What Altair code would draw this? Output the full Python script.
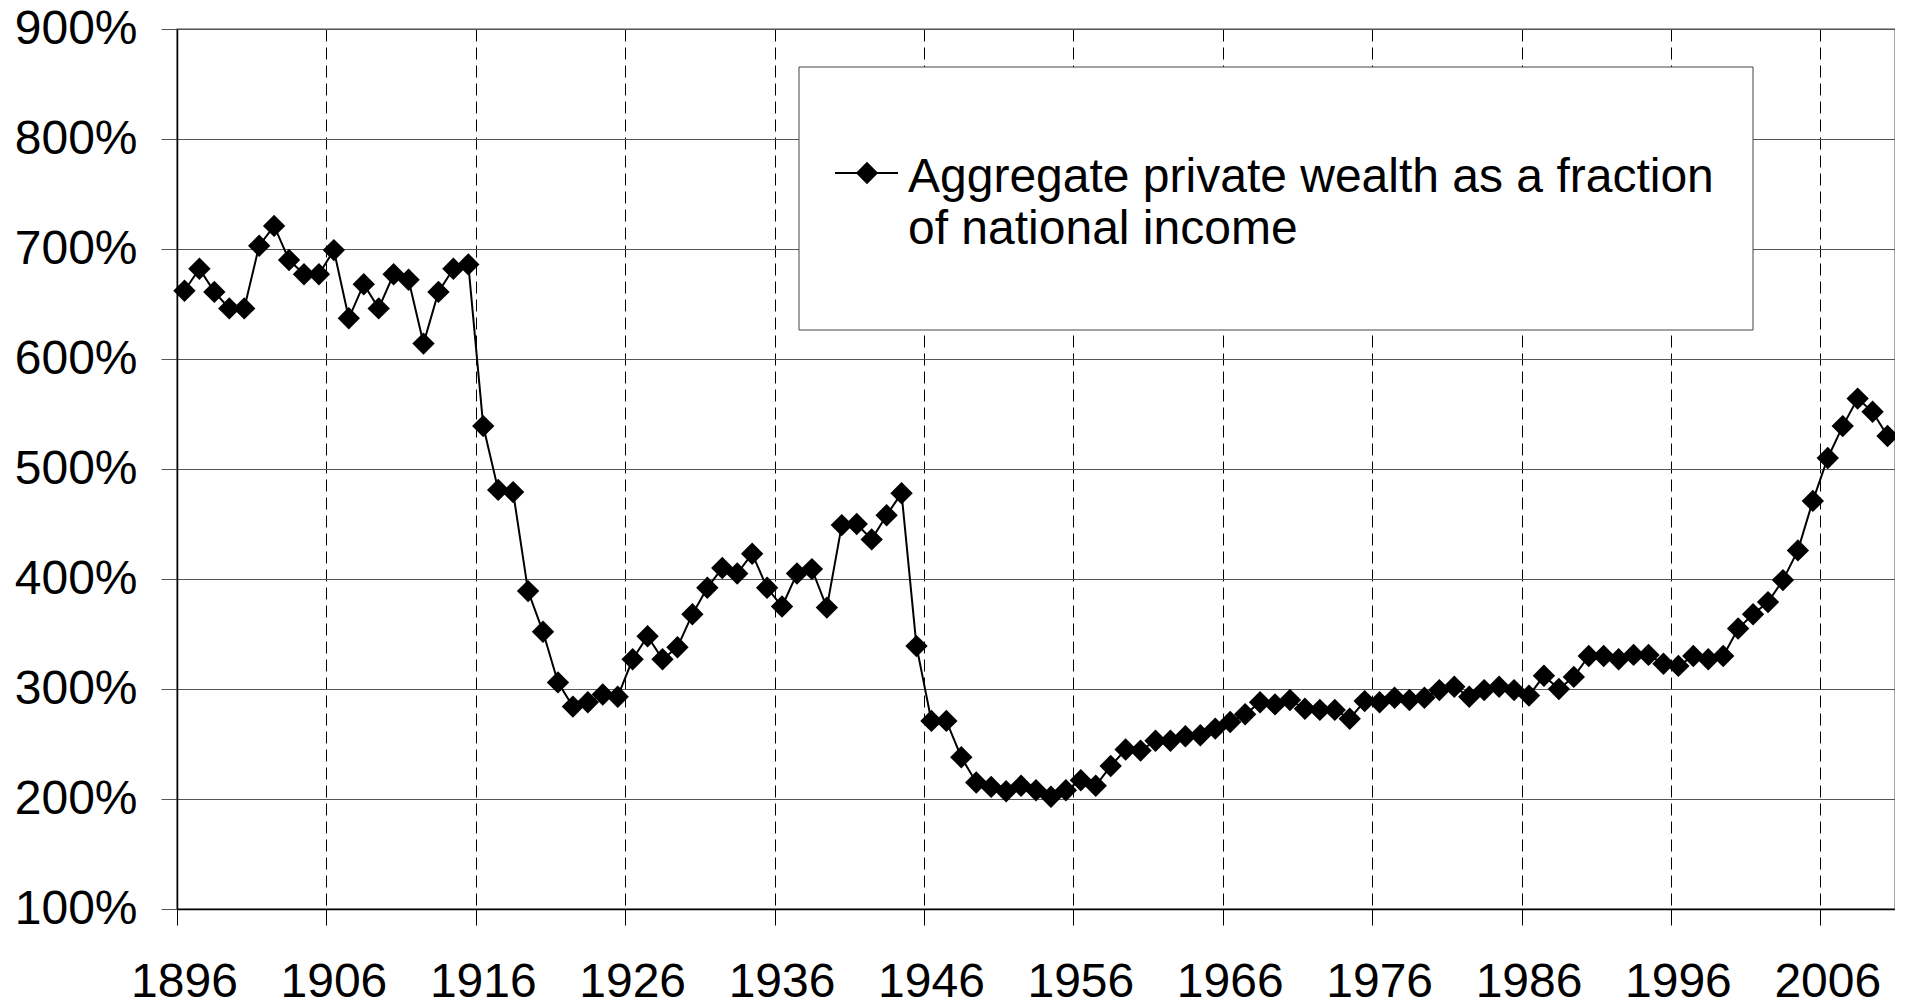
import altair as alt
import pandas as pd

# ---- data ----
years = list(range(1896, 2011))
wealth_ratio = [
    662, 682, 661, 646, 646, 703, 721, 690, 677, 677,   # 1896-1905
    699, 637, 668, 646, 677, 672, 614, 661, 682, 686,   # 1906-1915
    539, 481, 479, 389, 352, 306, 284, 288, 295, 293,   # 1916-1925
    327, 348, 327, 338, 368, 392, 410, 405, 423, 392,   # 1926-1935
    375, 405, 409, 374, 449, 450, 436, 458, 478, 339,   # 1936-1945
    271, 271, 238, 215, 211, 207, 212, 208, 202, 208,   # 1946-1955
    217, 212, 230, 245, 244, 253, 253, 257, 258, 264,   # 1956-1965
    270, 277, 288, 286, 290, 282, 281, 281, 273, 289,   # 1966-1975
    288, 292, 290, 292, 299, 302, 293, 299, 302, 299,   # 1976-1985
    294, 312, 300, 311, 330, 330, 327, 331, 331, 323,   # 1986-1995
    321, 330, 327, 330, 355, 368, 379, 399, 426, 471,   # 1996-2005
    510, 539, 564, 552, 530,                            # 2006-2010
]
x_tick_labels = [1896, 1906, 1916, 1926, 1936, 1946, 1956, 1966, 1976, 1986, 1996, 2006]
y_ticks = [100, 200, 300, 400, 500, 600, 700, 800, 900]
legend_lines = ["Aggregate private wealth as a fraction", "of national income"]

df = pd.DataFrame({"year": years, "value": wealth_ratio})
# category boundaries (gridlines sit between categories)
grid_vals = [y - 0.5 for y in x_tick_labels]

FONT = "Liberation Sans"
W, H = 1718, 880

x_enc = alt.X(
    "year:Q",
    scale=alt.Scale(domain=[1895.5, 2010.5], nice=False, zero=False),
    axis=alt.Axis(
        values=grid_vals,
        title=None,
        labelExpr="format(datum.value + 0.5, 'd')",
        labelOffset=7,
        labelFontSize=48,
        labelFont=FONT,
        labelColor="black",
        labelPadding=33,
        labelFlush=False,
        labelOverlap=False,
        tickSize=16,
        tickColor="black",
        tickWidth=1,
        domainColor="black",
        domainWidth=1.5,
        grid=True,
        gridColor="black",
        gridWidth=1,
        gridDash=[12, 6],
    ),
)
y_enc = alt.Y(
    "value:Q",
    scale=alt.Scale(domain=[100, 900], nice=False, zero=False),
    axis=alt.Axis(
        values=y_ticks,
        title=None,
        labelExpr="datum.value + '%'",
        labelFontSize=48,
        labelFont=FONT,
        labelColor="black",
        labelPadding=24,
        labelOverlap=False,
        tickSize=16,
        tickColor="#555555",
        tickWidth=1,
        domainColor="black",
        domainWidth=1.5,
        grid=True,
        gridColor="#555555",
        gridWidth=1,
    ),
)

line = alt.Chart(df).mark_line(color="black", strokeWidth=2).encode(x=x_enc, y=y_enc)
points = alt.Chart(df).mark_point(
    shape="diamond", filled=True, size=500, color="black", opacity=1
).encode(x="year:Q", y="value:Q")

# ---- legend (drawn as a boxed key) ----
leg_df = pd.DataFrame({"k": [0]})
leg_box = alt.Chart(leg_df).mark_rect(fill="white", stroke="#444444", strokeWidth=1).encode(
    x=alt.value(622), x2=alt.value(1576), y=alt.value(38), y2=alt.value(301)
)
leg_rule = alt.Chart(leg_df).mark_rule(color="black", strokeWidth=2).encode(
    x=alt.value(658), x2=alt.value(721), y=alt.value(144)
)
leg_sym = alt.Chart(leg_df).mark_point(
    shape="diamond", filled=True, size=500, color="black", opacity=1
).encode(x=alt.value(690), y=alt.value(144))
leg_t1 = alt.Chart(pd.DataFrame({"t": [legend_lines[0]]})).mark_text(
    align="left", baseline="alphabetic", fontSize=48, font=FONT, color="black"
).encode(x=alt.value(731), y=alt.value(163), text="t:N")
leg_t2 = alt.Chart(pd.DataFrame({"t": [legend_lines[1]]})).mark_text(
    align="left", baseline="alphabetic", fontSize=48, font=FONT, color="black"
).encode(x=alt.value(731), y=alt.value(215), text="t:N")

chart = (
    alt.layer(line, points, leg_box, leg_rule, leg_sym, leg_t1, leg_t2)
    .properties(
        width=W,
        height=H,
        padding={"left": 169, "top": 21, "right": 0, "bottom": 90},
        autosize=alt.AutoSizeParams(type="none"),
        background="white",
    )
    .configure_view(stroke="#888888", strokeWidth=1.5)
)

chart.save("out.html", embed_options={"renderer": "svg", "actions": False})
